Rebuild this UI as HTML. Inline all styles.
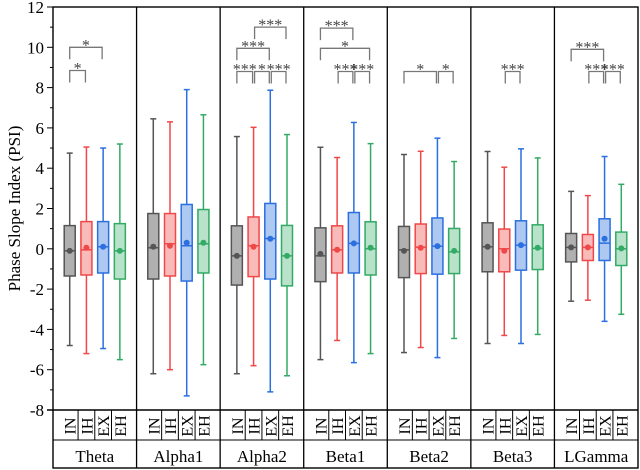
<!DOCTYPE html>
<html><head><meta charset="utf-8"><style>
html,body{margin:0;padding:0;background:#fff;}
svg{display:block;font-family:"Liberation Serif",serif;}
</style></head><body>
<svg id="chart" width="640" height="470" viewBox="0 0 640 470" xmlns="http://www.w3.org/2000/svg"></svg>
<script>
const bands = ["Theta","Alpha1","Alpha2","Beta1","Beta2","Beta3","LGamma"];
const conditions = ["IN","IH","EX","EH"];
const yTicks = [12,10,8,6,4,2,0,-2,-4,-6,-8];
// per band, per condition: [low, q1, median, q3, high, mean]
const thetaStats = [[-4.8,-1.35,-0.1,1.15,4.75,-0.1],[-5.2,-1.3,-0.05,1.35,5.05,0.05],[-4.95,-1.2,0.1,1.35,5.0,0.1],[-5.5,-1.5,-0.1,1.25,5.2,-0.1]];
const alpha1Stats = [[-6.2,-1.5,0.05,1.75,6.45,0.1],[-6.0,-1.35,0.25,1.75,6.3,0.15],[-7.3,-1.6,0.15,2.2,7.9,0.3],[-5.75,-1.2,0.25,1.95,6.65,0.3]];
const alpha2Stats = [[-6.2,-1.8,-0.35,1.14,5.57,-0.35],[-5.8,-1.38,0.15,1.58,6.03,0.1],[-7.1,-1.5,0.51,2.25,7.87,0.5],[-6.3,-1.84,-0.35,1.16,5.67,-0.35]];
const beta1Stats = [[-5.5,-1.63,-0.35,1.04,5.04,-0.25],[-4.55,-1.2,-0.05,1.14,4.53,-0.05],[-5.65,-1.2,0.27,1.8,6.27,0.27],[-5.2,-1.3,0.0,1.34,5.22,0.05]];
const beta2Stats = [[-5.15,-1.43,-0.05,1.11,4.68,-0.1],[-4.9,-1.23,0.08,1.23,4.84,0.05],[-5.4,-1.26,0.13,1.53,5.49,0.13],[-4.45,-1.23,-0.15,1.01,4.33,-0.1]];
const beta3Stats = [[-4.7,-1.14,0.1,1.29,4.83,0.1],[-4.3,-1.14,0.0,0.98,4.05,-0.1],[-4.7,-1.06,0.18,1.39,4.96,0.18],[-4.25,-1.03,0.02,1.19,4.51,0.05]];
const lgammaStats = [[-2.6,-0.65,0.07,0.76,2.85,0.07],[-2.55,-0.58,0.07,0.71,2.64,0.07],[-3.6,-0.58,0.28,1.49,4.58,0.5],[-3.25,-0.83,0.0,0.83,3.2,0.02]];
const allStats = [thetaStats,alpha1Stats,alpha2Stats,beta1Stats,beta2Stats,beta3Stats,lgammaStats];
// significance brackets: [band, fromCond, toCond, level(value), label]
const brackets = [
 [0,0,2,10.0,"*"],[0,0,1,8.85,"*"],
 [2,1,3,11.0,"***"],[2,0,2,9.95,"***"],[2,0,1,8.8,"***"],[2,1,2,8.8,"*"],[2,2,3,8.8,"***"],
 [3,0,2,10.95,"***"],[3,0,3,9.95,"*"],[3,1,2,8.8,"***"],[3,2,3,8.8,"***"],
 [4,0,2,8.8,"*"],[4,2,3,8.8,"*"],
 [5,1,2,8.8,"***"],
 [6,0,2,9.9,"***"],[6,1,2,8.8,"***"],[6,2,3,8.8,"***"]
];
const stroke = ["#555555","#f04848","#2b6fe0","#33aa66"];
const fill = ["#b0b0b0","#f9baba","#adc9f2","#b8e2c9"];

const L=53,R=638,T=7,B=410,yMin=-8,yMax=12;
const pw=(R-L)/bands.length;
const y=v=>B-(v-yMin)/(yMax-yMin)*(B-T);
const xc=(b,c)=>L+b*pw+(c+1)*pw/5;
const svg=document.getElementById('chart');
const NS="http://www.w3.org/2000/svg";
function mk(tag,attrs,parent){const e=document.createElementNS(NS,tag);for(const k in attrs)e.setAttribute(k,attrs[k]);(parent||svg).appendChild(e);return e;}

yTicks.forEach(v=>{
  const t=mk('line',{x1:L-6,x2:L,y1:y(v),y2:y(v),stroke:'#000','stroke-width':1});
  
  
  const lb=mk('text',{x:L-9,y:y(v)+6,'text-anchor':'end','font-size':17,fill:'#000'});
  lb.textContent=v;
  
  
});
for(let v=yMin+1;v<yMax;v+=2){mk('line',{x1:L-3,x2:L,y1:y(v),y2:y(v),stroke:'#000','stroke-width':1});}
const yt=mk('text',{x:20,y:(T+B)/2,'text-anchor':'middle','font-size':17,transform:`rotate(-90 20 ${(T+B)/2})`});
yt.textContent="Phase Slope Index (PSI)";



mk('rect',{x:L,y:T,width:R-L,height:468-T,fill:'none',stroke:'#000','stroke-width':1.4});
mk('line',{x1:L-6,x2:R,y1:B,y2:B,stroke:'#000','stroke-width':1.4});
mk('line',{x1:L,x2:R,y1:440,y2:440,stroke:'#000','stroke-width':1});
for(let b=1;b<bands.length;b++){const xx=L+b*pw;mk('line',{x1:xx,x2:xx,y1:T,y2:468,stroke:'#000','stroke-width':1.3});}

bands.forEach((name,b)=>{
  const g=mk('text',{x:L+b*pw+pw/2,y:462,'text-anchor':'middle','font-size':17});
  g.textContent=name;
  
  
  conditions.forEach((c,i)=>{
    if(i>0){const xx=(xc(b,i)+xc(b,i-1))/2;mk('line',{x1:xx,x2:xx,y1:B,y2:440,stroke:'#000','stroke-width':1});}
    const cx=xc(b,i);
    const ct=mk('text',{x:cx+6,y:426,'text-anchor':'middle','font-size':16,transform:`rotate(-90 ${cx+6} 426)`});
    ct.textContent=c;
    
    
    const s=allStats[b][i];
    const grp=mk('g',{});
    
    
    const w=11,col=stroke[i];
    mk('line',{x1:cx,x2:cx,y1:y(s[4]),y2:y(s[0]),stroke:col,'stroke-width':1.5},grp);
    mk('line',{x1:cx-3,x2:cx+3,y1:y(s[4]),y2:y(s[4]),stroke:col,'stroke-width':1.5},grp);
    mk('line',{x1:cx-3,x2:cx+3,y1:y(s[0]),y2:y(s[0]),stroke:col,'stroke-width':1.5},grp);
    mk('rect',{x:cx-w/2,y:y(s[3]),width:w,height:y(s[1])-y(s[3]),fill:fill[i],stroke:col,'stroke-width':1.5},grp);
    mk('line',{x1:cx-w/2,x2:cx+w/2,y1:y(s[2]),y2:y(s[2]),stroke:col,'stroke-width':1.5},grp);
    mk('circle',{cx:cx,cy:y(s[5]),r:3,fill:col},grp);
  });
});

brackets.forEach(br=>{
  const [b,i,j,lv,lab]=br;
  const x1=xc(b,i)+(i>0?1:0),x2=xc(b,j)-1,yy=y(lv),leg=12;
  const g=mk('g',{});
  
  
  mk('path',{d:`M${x1} ${yy+leg}V${yy}H${x2}V${yy+leg}`,fill:'none',stroke:'#777','stroke-width':1.3},g);
  const t=mk('text',{x:(x1+x2)/2,y:yy+3,'text-anchor':'middle','font-size':16,fill:'#444'},g);
  t.textContent=lab;
});
</script>
</body></html>
